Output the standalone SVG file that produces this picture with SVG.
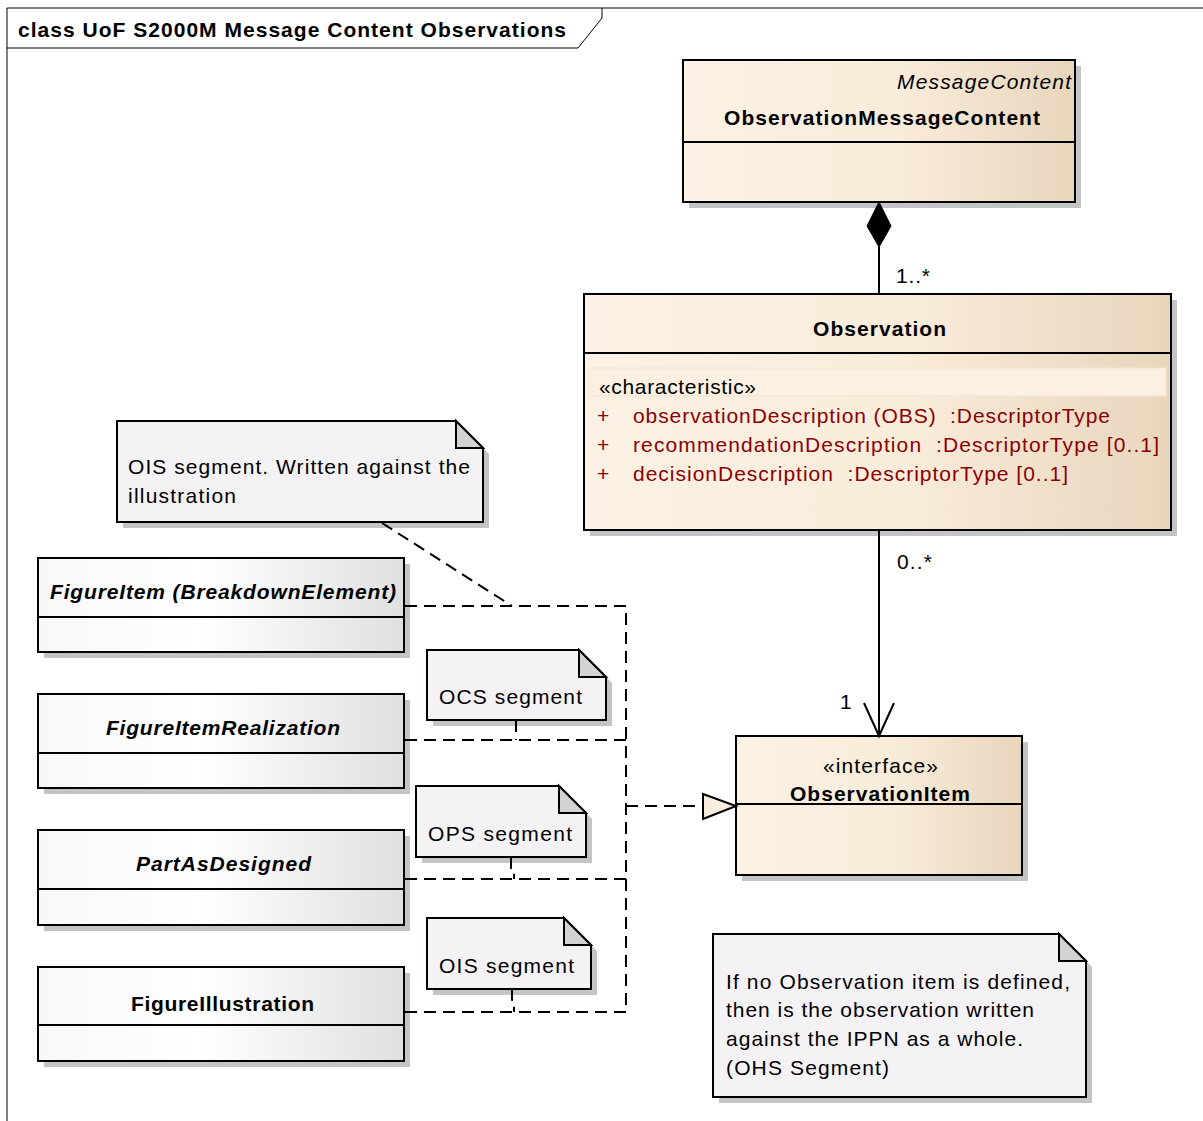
<svg xmlns="http://www.w3.org/2000/svg" width="1203" height="1121" viewBox="0 0 1203 1121">
  <style>
    .frame { fill: none; stroke: #000; stroke-width: 1; }
    .box { stroke: #000; stroke-width: 2; }
    .shadow { fill: #c4c4c4; }
    .div { stroke: #000; stroke-width: 2; }
    .note { fill: #f5f2f5; stroke: #000; stroke-width: 2; }
    .fold { fill: #d5d2d5; stroke: #000; stroke-width: 2; stroke-linejoin: miter; }
    .dash { fill: none; stroke: #000; stroke-width: 2; stroke-dasharray: 12 7; }
    .solid { fill: none; stroke: #000; stroke-width: 2; }
    text { font-family: "Liberation Sans", Arial, sans-serif; font-size: 21px; fill: #000; }
    .b { font-weight: bold; }
    .bi { font-weight: bold; font-style: italic; }
    .i { font-style: italic; }
    .attr { fill: #8b0000; white-space: pre; }
  </style>
  <defs>
    <linearGradient id="beige" x1="0" y1="0" x2="1" y2="0">
      <stop offset="0" stop-color="#fbf2e5"/>
      <stop offset="0.55" stop-color="#f9ecda"/>
      <stop offset="1" stop-color="#e8d6bc"/>
    </linearGradient>
    <linearGradient id="grey" x1="0" y1="0" x2="1" y2="0">
      <stop offset="0" stop-color="#f8f8f8"/>
      <stop offset="0.45" stop-color="#ffffff"/>
      <stop offset="1" stop-color="#e0e0e0"/>
    </linearGradient>
  </defs>

  <rect width="1203" height="1121" fill="#ffffff"/>

  <!-- diagram frame and title tab -->
  <g id="frame">
    <path class="frame" d="M7,1121 V8 H1203"/>
    <path class="frame" d="M7,48 H578 L602,18 V8"/>
    <text class="b" x="18" y="37" textLength="548" lengthAdjust="spacing">class UoF S2000M Message Content Observations</text>
  </g>

  <!-- ObservationMessageContent -->
  <g id="ObservationMessageContent">
    <rect class="shadow" x="689" y="66" width="392" height="142"/>
    <rect class="box" x="683" y="60" width="392" height="142" fill="url(#beige)"/>
    <line class="div" x1="683" y1="142" x2="1075" y2="142"/>
    <text class="i" x="1071" y="89" text-anchor="end" textLength="174" lengthAdjust="spacing">MessageContent</text>
    <text class="b" x="724" y="125" textLength="316" lengthAdjust="spacing">ObservationMessageContent</text>
  </g>

  <!-- Observation -->
  <g id="Observation">
    <rect class="shadow" x="590" y="300" width="587" height="236"/>
    <rect class="box" x="584" y="294" width="587" height="236" fill="url(#beige)"/>
    <line class="div" x1="584" y1="353" x2="1171" y2="353"/>
    <text class="b" x="813" y="336" textLength="133" lengthAdjust="spacing">Observation</text>
    <rect x="589" y="368" width="577" height="28" fill="#fbf0e1" stroke="#f5e5cf" stroke-width="1"/>
    <text x="599" y="394" textLength="157" lengthAdjust="spacing">«characteristic»</text>
    <text class="attr" x="597" y="423">+</text>
    <text class="attr" x="633" y="423" textLength="477" lengthAdjust="spacing">observationDescription (OBS)  :DescriptorType</text>
    <text class="attr" x="597" y="452">+</text>
    <text class="attr" x="633" y="452" textLength="526" lengthAdjust="spacing">recommendationDescription  :DescriptorType [0..1]</text>
    <text class="attr" x="597" y="481">+</text>
    <text class="attr" x="633" y="481" textLength="435" lengthAdjust="spacing">decisionDescription  :DescriptorType [0..1]</text>
  </g>

  <!-- ObservationItem -->
  <g id="ObservationItem">
    <rect class="shadow" x="742" y="742" width="286" height="139"/>
    <rect class="box" x="736" y="736" width="286" height="139" fill="url(#beige)"/>
    <line class="div" x1="736" y1="804" x2="1022" y2="804"/>
    <text x="823" y="773" textLength="115" lengthAdjust="spacing">«interface»</text>
    <text class="b" x="790" y="801" textLength="180" lengthAdjust="spacing">ObservationItem</text>
  </g>

  <!-- FigureItem -->
  <g id="FigureItem">
    <rect class="shadow" x="44" y="564" width="366" height="94"/>
    <rect class="box" x="38" y="558" width="366" height="94" fill="url(#grey)"/>
    <line class="div" x1="38" y1="617" x2="404" y2="617"/>
    <text class="bi" x="50" y="599" textLength="346" lengthAdjust="spacing">FigureItem (BreakdownElement)</text>
  </g>

  <!-- FigureItemRealization -->
  <g id="FigureItemRealization">
    <rect class="shadow" x="44" y="700" width="366" height="94"/>
    <rect class="box" x="38" y="694" width="366" height="94" fill="url(#grey)"/>
    <line class="div" x1="38" y1="753" x2="404" y2="753"/>
    <text class="bi" x="106" y="735" textLength="234" lengthAdjust="spacing">FigureItemRealization</text>
  </g>

  <!-- PartAsDesigned -->
  <g id="PartAsDesigned">
    <rect class="shadow" x="44" y="836" width="366" height="95"/>
    <rect class="box" x="38" y="830" width="366" height="95" fill="url(#grey)"/>
    <line class="div" x1="38" y1="889" x2="404" y2="889"/>
    <text class="bi" x="136" y="871" textLength="175" lengthAdjust="spacing">PartAsDesigned</text>
  </g>

  <!-- FigureIllustration -->
  <g id="FigureIllustration">
    <rect class="shadow" x="44" y="973" width="366" height="94"/>
    <rect class="box" x="38" y="967" width="366" height="94" fill="url(#grey)"/>
    <line class="div" x1="38" y1="1025" x2="404" y2="1025"/>
    <text class="b" x="131" y="1011" textLength="183" lengthAdjust="spacing">FigureIllustration</text>
  </g>

  <!-- Notes -->
  <g id="NoteOISIllustration">
    <path class="shadow" d="M123,528 V427 H462 L489,454 V528 Z"/>
    <path class="note" d="M117,522 V421 H456 L483,448 V522 Z"/>
    <path class="fold" d="M456,421 V448 H483 Z"/>
    <text x="128" y="474" textLength="342" lengthAdjust="spacing">OIS segment. Written against the</text>
    <text x="128" y="503" textLength="108" lengthAdjust="spacing">illustration</text>
  </g>

  <g id="NoteOCS">
    <path class="shadow" d="M433,726 V656 H585 L612,683 V726 Z"/>
    <path class="note" d="M427,720 V650 H579 L606,677 V720 Z"/>
    <path class="fold" d="M579,650 V677 H606 Z"/>
    <text x="439" y="704" textLength="143" lengthAdjust="spacing">OCS segment</text>
  </g>

  <g id="NoteOPS">
    <path class="shadow" d="M422,863 V792 H565 L592,819 V863 Z"/>
    <path class="note" d="M416,857 V786 H559 L586,813 V857 Z"/>
    <path class="fold" d="M559,786 V813 H586 Z"/>
    <text x="428" y="841" textLength="144" lengthAdjust="spacing">OPS segment</text>
  </g>

  <g id="NoteOIS">
    <path class="shadow" d="M433,995 V924 H570 L597,951 V995 Z"/>
    <path class="note" d="M427,989 V918 H564 L591,945 V989 Z"/>
    <path class="fold" d="M564,918 V945 H591 Z"/>
    <text x="439" y="973" textLength="135" lengthAdjust="spacing">OIS segment</text>
  </g>

  <g id="NoteOHS">
    <path class="shadow" d="M719,1103 V940 H1065 L1092,967 V1103 Z"/>
    <path class="note" d="M713,1097 V934 H1059 L1086,961 V1097 Z"/>
    <path class="fold" d="M1059,934 V961 H1086 Z"/>
    <text x="726" y="989" textLength="344" lengthAdjust="spacing">If no Observation item is defined,</text>
    <text x="726" y="1017" textLength="308" lengthAdjust="spacing">then is the observation written</text>
    <text x="726" y="1046" textLength="297" lengthAdjust="spacing">against the IPPN as a whole.</text>
    <text x="726" y="1075" textLength="163" lengthAdjust="spacing">(OHS Segment)</text>
  </g>

  <!-- connectors, drawn over the node shadows -->
  <g id="connectors">
    <!-- composition: Observation to ObservationMessageContent -->
    <path class="solid" d="M879,247 V294"/>
    <polygon points="879,202 891,226 879,247 867,226" fill="#000" stroke="#000" stroke-width="1"/>
    <text x="896" y="283" textLength="34" lengthAdjust="spacing">1..*</text>

    <!-- association: Observation to ObservationItem -->
    <path class="solid" d="M879,530 V736"/>
    <path class="solid" d="M864,703 L879,736 L894,703"/>
    <text x="897" y="569" textLength="35" lengthAdjust="spacing">0..*</text>
    <text x="840" y="709">1</text>

    <!-- realizations to ObservationItem -->
    <path class="dash" d="M405,606 H626 V1012 H405"/>
    <path class="dash" d="M405,740 H626"/>
    <path class="dash" d="M405,879 H626"/>
    <path class="dash" d="M626,806 H703"/>
    <polygon points="703,794 736,806 703,819" fill="#f9eedd" stroke="#000" stroke-width="2"/>

    <!-- note anchors -->
    <path class="dash" d="M382,523 L512,606"/>
    <path class="dash" d="M516,720 V740"/>
    <path class="dash" d="M511,857 V868 L514,869 V879"/>
    <path class="dash" d="M512,989 V1000 L514,1001 V1012"/>
  </g>
</svg>
